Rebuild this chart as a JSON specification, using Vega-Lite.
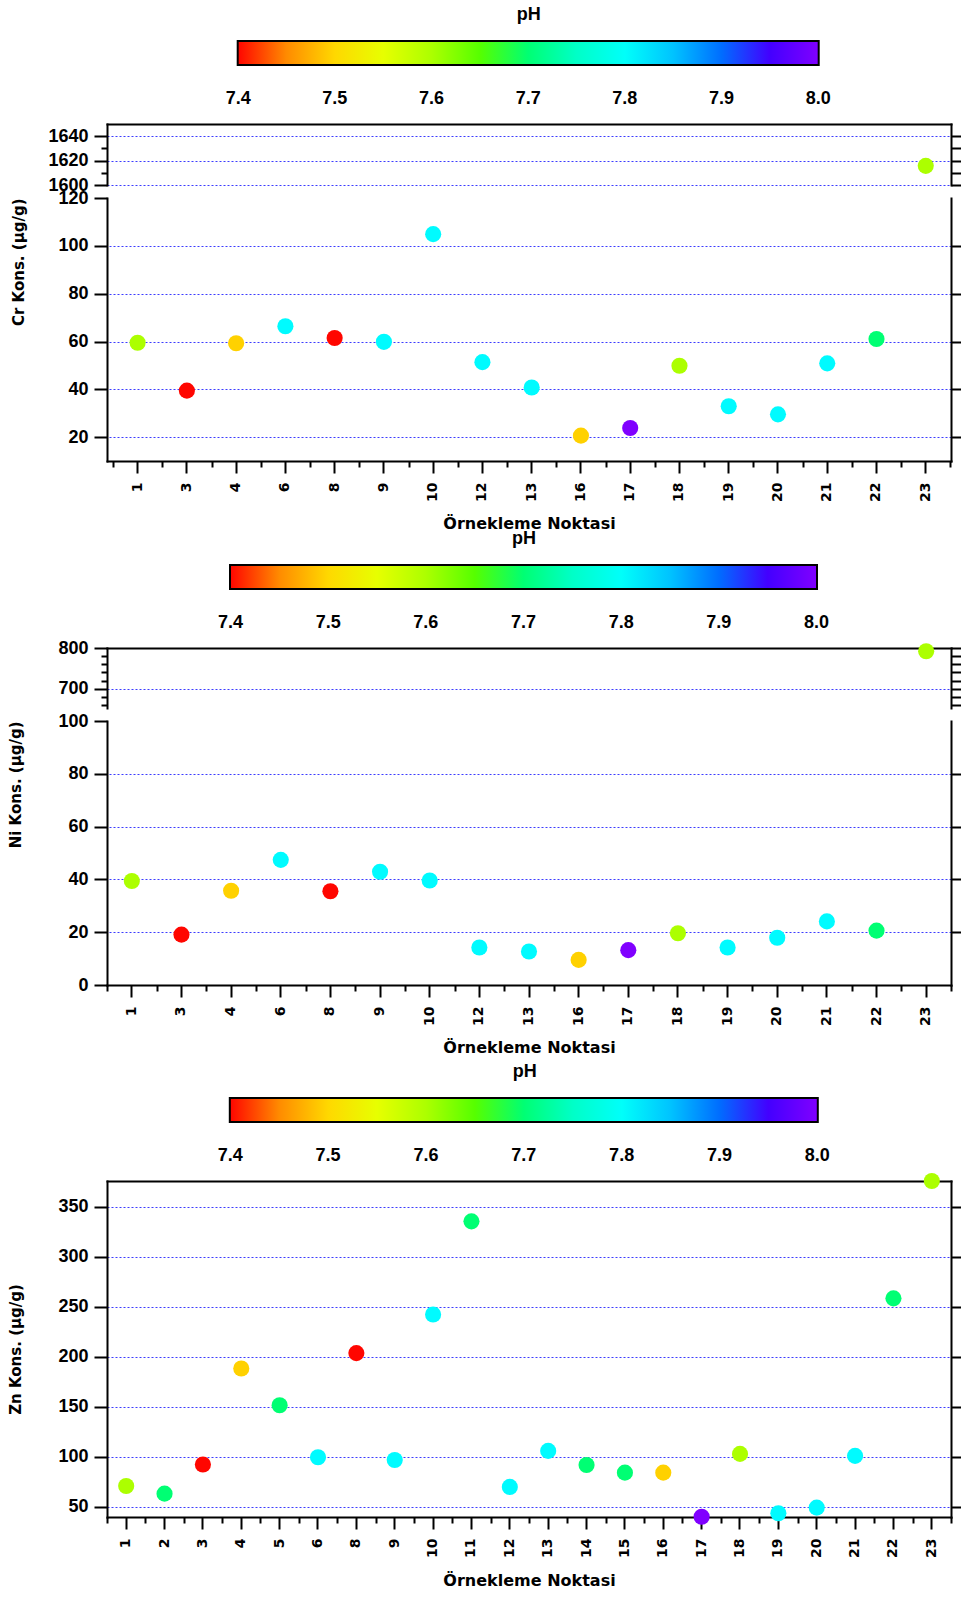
{
  "$schema": "https://vega.github.io/schema/vega-lite/v6.json",
  "background": "white",
  "padding": {"left": 8, "top": 6, "right": 0, "bottom": 0},
  "datasets": {
    "cr": [
      {"Nokta": 1, "Cr": 59.5, "pH": 7.6},
      {"Nokta": 3, "Cr": 39.5, "pH": 7.4},
      {"Nokta": 4, "Cr": 59.3, "pH": 7.495},
      {"Nokta": 6, "Cr": 66.4, "pH": 7.81},
      {"Nokta": 8, "Cr": 61.5, "pH": 7.4},
      {"Nokta": 9, "Cr": 59.9, "pH": 7.81},
      {"Nokta": 10, "Cr": 104.9, "pH": 7.81},
      {"Nokta": 12, "Cr": 51.4, "pH": 7.81},
      {"Nokta": 13, "Cr": 40.8, "pH": 7.81},
      {"Nokta": 16, "Cr": 20.7, "pH": 7.495},
      {"Nokta": 17, "Cr": 23.9, "pH": 8.0},
      {"Nokta": 18, "Cr": 49.9, "pH": 7.6},
      {"Nokta": 19, "Cr": 33.0, "pH": 7.81},
      {"Nokta": 20, "Cr": 29.6, "pH": 7.81},
      {"Nokta": 21, "Cr": 50.9, "pH": 7.81},
      {"Nokta": 22, "Cr": 61.1, "pH": 7.7},
      {"Nokta": 23, "Cr": 1615.7, "pH": 7.6}
    ],
    "ni": [
      {"Nokta": 1, "Ni": 39.4, "pH": 7.6},
      {"Nokta": 3, "Ni": 19.1, "pH": 7.4},
      {"Nokta": 4, "Ni": 35.7, "pH": 7.495},
      {"Nokta": 6, "Ni": 47.4, "pH": 7.81},
      {"Nokta": 8, "Ni": 35.5, "pH": 7.4},
      {"Nokta": 9, "Ni": 42.9, "pH": 7.81},
      {"Nokta": 10, "Ni": 39.6, "pH": 7.81},
      {"Nokta": 12, "Ni": 14.2, "pH": 7.81},
      {"Nokta": 13, "Ni": 12.7, "pH": 7.81},
      {"Nokta": 16, "Ni": 9.5, "pH": 7.495},
      {"Nokta": 17, "Ni": 13.2, "pH": 8.0},
      {"Nokta": 18, "Ni": 19.6, "pH": 7.6},
      {"Nokta": 19, "Ni": 14.2, "pH": 7.81},
      {"Nokta": 20, "Ni": 17.9, "pH": 7.81},
      {"Nokta": 21, "Ni": 24.1, "pH": 7.81},
      {"Nokta": 22, "Ni": 20.6, "pH": 7.7},
      {"Nokta": 23, "Ni": 792, "pH": 7.6}
    ],
    "zn": [
      {"Nokta": 1, "Zn": 70.7, "pH": 7.6},
      {"Nokta": 2, "Zn": 63.0, "pH": 7.7},
      {"Nokta": 3, "Zn": 92.1, "pH": 7.4},
      {"Nokta": 4, "Zn": 188.3, "pH": 7.495},
      {"Nokta": 5, "Zn": 151.5, "pH": 7.7},
      {"Nokta": 6, "Zn": 99.4, "pH": 7.81},
      {"Nokta": 8, "Zn": 203.7, "pH": 7.4},
      {"Nokta": 9, "Zn": 96.7, "pH": 7.81},
      {"Nokta": 10, "Zn": 242.4, "pH": 7.81},
      {"Nokta": 11, "Zn": 335.6, "pH": 7.7},
      {"Nokta": 12, "Zn": 69.7, "pH": 7.81},
      {"Nokta": 13, "Zn": 105.8, "pH": 7.81},
      {"Nokta": 14, "Zn": 91.7, "pH": 7.7},
      {"Nokta": 15, "Zn": 84.0, "pH": 7.7},
      {"Nokta": 16, "Zn": 84.0, "pH": 7.495},
      {"Nokta": 17, "Zn": 39.9, "pH": 8.0},
      {"Nokta": 18, "Zn": 102.8, "pH": 7.6},
      {"Nokta": 19, "Zn": 43.3, "pH": 7.81},
      {"Nokta": 20, "Zn": 49.0, "pH": 7.81},
      {"Nokta": 21, "Zn": 100.8, "pH": 7.81},
      {"Nokta": 22, "Zn": 258.5, "pH": 7.7},
      {"Nokta": 23, "Zn": 376.0, "pH": 7.6}
    ]
  },
  "config": {
    "view": {"stroke": null},
    "axis": {
      "domainColor": "black", "domainWidth": 2, "domainCap": "square",
      "tickColor": "black", "tickWidth": 2, "tickSize": 13,
      "labelColor": "black", "labelFont": "Liberation Sans", "labelFontWeight": "bold", "labelFontSize": 18, "labelPadding": 6,
      "titleColor": "black", "titleFont": "DejaVu Sans", "titleFontWeight": "bold", "titleFontSize": 15,
      "gridColor": "#3c3cff", "gridDash": [2, 2], "gridWidth": 1, "gridOpacity": 1
    },
    "axisX": {"labelFont": "DejaVu Sans", "labelFontWeight": "bold", "labelFontSize": 14, "labelAngle": 270, "labelPadding": 9, "tickSize": 12, "titleFontSize": 16, "grid": false},
    "legend": {
      "orient": "none", "direction": "horizontal", "padding": 0,
      "gradientThickness": 24, "gradientStrokeColor": "black", "gradientStrokeWidth": 2,
      "titleFont": "Liberation Sans", "titleFontSize": 18, "titleFontWeight": "bold", "titleColor": "black", "titleAnchor": "middle", "titlePadding": 17,
      "labelFont": "Liberation Sans", "labelFontSize": 18, "labelFontWeight": "bold", "labelColor": "black"
    }
  },
  "concat": [
    {
      "concat": [
        {
          "concat": [
            {
              "width": 844, "height": 61,
              "data": {"name": "cr"},
              "transform": [{"filter": "datum.Cr > 1000"}],
              "layer": [
                {
                  "mark": {"type": "circle", "size": 260, "opacity": 1},
                  "encoding": {
                    "x": {"field": "Nokta", "type": "ordinal", "scale": {"type": "band", "domain": [1,3,4,6,8,9,10,12,13,16,17,18,19,20,21,22,23], "paddingInner": 0, "paddingOuter": 0.067, "align": 0.907}, "axis": null},
                    "y": {"field": "Cr", "type": "quantitative", "scale": {"domain": [1600, 1650], "nice": false, "zero": false}, "axis": {"values": [1600, 1620, 1640], "format": "d", "grid": true, "title": null}},
                    "color": {"field": "pH", "type": "quantitative", "scale": {"domain": [7.3995, 7.527, 7.667, 7.807, 7.93, 8.0005], "range": ["#ff0000", "#ffff00", "#00ff00", "#00ffff", "#0000ff", "#8000ff"]}, "legend": {"title": "pH", "values": [7.4, 7.5, 7.6, 7.7, 7.8, 7.9, 8.0], "format": ".1f", "legendX": 130.7, "legendY": -118, "gradientLength": 581, "labelOffset": 25}}
                  }
                },
                {
                  "mark": {"type": "circle", "opacity": 0},
                  "encoding": {
                    "x": {"field": "Nokta", "type": "ordinal", "scale": {"type": "band", "domain": [1,3,4,6,8,9,10,12,13,16,17,18,19,20,21,22,23], "paddingInner": 0, "paddingOuter": 0.067, "align": 0.907}, "axis": {"orient": "top", "labels": false, "ticks": false, "title": null}},
                    "y": {"field": "Cr", "type": "quantitative", "scale": {"domain": [1600, 1650], "nice": false, "zero": false}, "axis": {"orient": "right", "values": [1600, 1610, 1620, 1630, 1640], "labels": false, "grid": false, "title": null, "tickSize": 10}}
                  }
                },
                {
                  "mark": {"type": "circle", "opacity": 0},
                  "encoding": {
                    "x": {"field": "Nokta", "type": "ordinal", "scale": {"type": "band", "domain": [1,3,4,6,8,9,10,12,13,16,17,18,19,20,21,22,23], "paddingInner": 0, "paddingOuter": 0.067, "align": 0.907}, "axis": null},
                    "y": {"field": "Cr", "type": "quantitative", "scale": {"domain": [1600, 1650], "nice": false, "zero": false}, "axis": {"orient": "left", "values": [1610, 1630], "labels": false, "domain": false, "grid": false, "title": null, "tickSize": 6}}
                  }
                }
              ],
              "resolve": {"axis": {"x": "independent", "y": "independent"}}
            },
            {
              "width": 844, "height": 263,
              "data": {"name": "cr"},
              "transform": [{"filter": "datum.Cr < 1000"}],
              "layer": [
                {
                  "mark": {"type": "circle", "size": 260, "opacity": 1},
                  "encoding": {
                    "x": {"field": "Nokta", "type": "ordinal", "scale": {"type": "band", "domain": [1,3,4,6,8,9,10,12,13,16,17,18,19,20,21,22,23], "paddingInner": 0, "paddingOuter": 0.067, "align": 0.907}, "axis": {"title": "Örnekleme Noktasi", "titlePadding": 14}},
                    "y": {"field": "Cr", "type": "quantitative", "scale": {"domain": [10.1, 120], "nice": false, "zero": false}, "axis": {"values": [20, 40, 60, 80, 100, 120], "grid": false, "title": "Cr Kons. (µg/g)", "titleAnchor": "end", "titlePadding": 31}},
                    "color": {"field": "pH", "type": "quantitative", "scale": {"domain": [7.3995, 7.527, 7.667, 7.807, 7.93, 8.0005], "range": ["#ff0000", "#ffff00", "#00ff00", "#00ffff", "#0000ff", "#8000ff"]}, "legend": {"title": "pH", "values": [7.4, 7.5, 7.6, 7.7, 7.8, 7.9, 8.0], "format": ".1f", "legendX": 130.7, "legendY": -118, "gradientLength": 581, "labelOffset": 25}}
                  }
                },
                {
                  "mark": {"type": "circle", "opacity": 0},
                  "encoding": {
                    "x": {"field": "Nokta", "type": "ordinal", "scale": {"type": "band", "domain": [1,3,4,6,8,9,10,12,13,16,17,18,19,20,21,22,23], "paddingInner": 0, "paddingOuter": 0.067, "align": 0.907}, "axis": {"orient": "bottom", "tickBand": "extent", "labels": false, "domain": false, "title": null, "tickSize": 6}},
                    "y": {"field": "Cr", "type": "quantitative", "scale": {"domain": [10.1, 120], "nice": false, "zero": false}, "axis": {"orient": "right", "values": [20, 40, 60, 80, 100], "labels": false, "grid": true, "title": null, "tickSize": 10}}
                  }
                }
              ],
              "resolve": {"axis": {"x": "independent", "y": "independent"}}
            }
          ],
          "columns": 1, "spacing": 13, "bounds": "flush", "align": {"row": "none", "column": "each"}
        },
        {
          "concat": [
            {
              "width": 844, "height": 60,
              "data": {"name": "ni"},
              "transform": [{"filter": "datum.Ni > 500"}],
              "layer": [
                {
                  "mark": {"type": "circle", "size": 260, "opacity": 1},
                  "encoding": {
                    "x": {"field": "Nokta", "type": "ordinal", "scale": {"type": "band", "domain": [1,3,4,6,8,9,10,12,13,16,17,18,19,20,21,22,23], "paddingInner": 0, "paddingOuter": 0}, "axis": null},
                    "y": {"field": "Ni", "type": "quantitative", "scale": {"domain": [653, 800], "nice": false, "zero": false}, "axis": {"values": [700, 800], "grid": true, "title": null}},
                    "color": {"field": "pH", "type": "quantitative", "scale": {"domain": [7.3995, 7.527, 7.667, 7.807, 7.93, 8.0005], "range": ["#ff0000", "#ffff00", "#00ff00", "#00ffff", "#0000ff", "#8000ff"]}, "legend": {"title": "pH", "values": [7.4, 7.5, 7.6, 7.7, 7.8, 7.9, 8.0], "format": ".1f", "legendX": 123, "legendY": -118, "gradientLength": 587, "labelOffset": 25}}
                  }
                },
                {
                  "mark": {"type": "circle", "opacity": 0},
                  "encoding": {
                    "x": {"field": "Nokta", "type": "ordinal", "scale": {"type": "band", "domain": [1,3,4,6,8,9,10,12,13,16,17,18,19,20,21,22,23], "paddingInner": 0, "paddingOuter": 0}, "axis": {"orient": "top", "labels": false, "ticks": false, "title": null}},
                    "y": {"field": "Ni", "type": "quantitative", "scale": {"domain": [653, 800], "nice": false, "zero": false}, "axis": {"orient": "right", "values": [660, 680, 700, 720, 740, 760, 780, 800], "labels": false, "grid": false, "title": null, "tickSize": 10}}
                  }
                },
                {
                  "mark": {"type": "circle", "opacity": 0},
                  "encoding": {
                    "x": {"field": "Nokta", "type": "ordinal", "scale": {"type": "band", "domain": [1,3,4,6,8,9,10,12,13,16,17,18,19,20,21,22,23], "paddingInner": 0, "paddingOuter": 0}, "axis": null},
                    "y": {"field": "Ni", "type": "quantitative", "scale": {"domain": [653, 800], "nice": false, "zero": false}, "axis": {"orient": "left", "values": [660, 680, 720, 740, 760, 780], "labels": false, "domain": false, "grid": false, "title": null, "tickSize": 6}}
                  }
                }
              ],
              "resolve": {"axis": {"x": "independent", "y": "independent"}}
            },
            {
              "width": 844, "height": 264,
              "data": {"name": "ni"},
              "transform": [{"filter": "datum.Ni < 500"}],
              "layer": [
                {
                  "mark": {"type": "circle", "size": 260, "opacity": 1},
                  "encoding": {
                    "x": {"field": "Nokta", "type": "ordinal", "scale": {"type": "band", "domain": [1,3,4,6,8,9,10,12,13,16,17,18,19,20,21,22,23], "paddingInner": 0, "paddingOuter": 0}, "axis": {"title": "Örnekleme Noktasi", "titlePadding": 14}},
                    "y": {"field": "Ni", "type": "quantitative", "scale": {"domain": [0, 100], "nice": false}, "axis": {"values": [0, 20, 40, 60, 80, 100], "grid": false, "title": "Ni Kons. (µg/g)", "titleAnchor": "end", "titlePadding": 34}},
                    "color": {"field": "pH", "type": "quantitative", "scale": {"domain": [7.3995, 7.527, 7.667, 7.807, 7.93, 8.0005], "range": ["#ff0000", "#ffff00", "#00ff00", "#00ffff", "#0000ff", "#8000ff"]}, "legend": {"title": "pH", "values": [7.4, 7.5, 7.6, 7.7, 7.8, 7.9, 8.0], "format": ".1f", "legendX": 123, "legendY": -118, "gradientLength": 587, "labelOffset": 25}}
                  }
                },
                {
                  "mark": {"type": "circle", "opacity": 0},
                  "encoding": {
                    "x": {"field": "Nokta", "type": "ordinal", "scale": {"type": "band", "domain": [1,3,4,6,8,9,10,12,13,16,17,18,19,20,21,22,23], "paddingInner": 0, "paddingOuter": 0}, "axis": {"orient": "bottom", "tickBand": "extent", "labels": false, "domain": false, "title": null, "tickSize": 6}},
                    "y": {"field": "Ni", "type": "quantitative", "scale": {"domain": [0, 100], "nice": false}, "axis": {"orient": "right", "values": [20, 40, 60, 80], "labels": false, "grid": true, "title": null, "tickSize": 10}}
                  }
                }
              ],
              "resolve": {"axis": {"x": "independent", "y": "independent"}}
            }
          ],
          "columns": 1, "spacing": 13, "bounds": "flush", "align": {"row": "none", "column": "each"}
        }
      ],
      "columns": 1, "spacing": -2, "align": "none",
      "resolve": {"scale": {"color": "independent"}}
    },
    {
      "width": 844, "height": 336,
      "data": {"name": "zn"},
      "layer": [
        {
          "mark": {"type": "circle", "size": 260, "opacity": 1, "clip": false},
          "encoding": {
            "x": {"field": "Nokta", "type": "ordinal", "scale": {"type": "band", "paddingInner": 0, "paddingOuter": 0}, "axis": {"title": "Örnekleme Noktasi", "titlePadding": 15}},
            "y": {"field": "Zn", "type": "quantitative", "scale": {"domain": [39.6, 376], "nice": false, "zero": false}, "axis": {"values": [50, 100, 150, 200, 250, 300, 350], "grid": true, "title": "Zn Kons. (µg/g)", "titlePadding": 34}},
            "color": {"field": "pH", "type": "quantitative", "scale": {"domain": [7.3995, 7.527, 7.667, 7.807, 7.93, 8.0005], "range": ["#ff0000", "#ffff00", "#00ff00", "#00ffff", "#0000ff", "#8000ff"]}, "legend": {"title": "pH", "values": [7.4, 7.5, 7.6, 7.7, 7.8, 7.9, 8.0], "format": ".1f", "legendX": 122.8, "legendY": -118, "gradientLength": 588, "labelOffset": 25}}
          }
        },
        {
          "mark": {"type": "circle", "opacity": 0},
          "encoding": {
            "x": {"field": "Nokta", "type": "ordinal", "scale": {"type": "band", "paddingInner": 0, "paddingOuter": 0}, "axis": {"orient": "top", "labels": false, "ticks": false, "title": null}},
            "y": {"field": "Zn", "type": "quantitative", "scale": {"domain": [39.6, 376], "nice": false, "zero": false}, "axis": {"orient": "right", "values": [50, 100, 150, 200, 250, 300, 350], "labels": false, "grid": false, "title": null, "tickSize": 10}}
          }
        },
        {
          "mark": {"type": "circle", "opacity": 0},
          "encoding": {
            "x": {"field": "Nokta", "type": "ordinal", "scale": {"type": "band", "paddingInner": 0, "paddingOuter": 0}, "axis": {"orient": "bottom", "tickBand": "extent", "labels": false, "domain": false, "title": null, "tickSize": 6}},
            "y": {"field": "Zn", "type": "quantitative", "scale": {"domain": [39.6, 376], "nice": false, "zero": false}, "axis": null}
          }
        }
      ],
      "resolve": {"axis": {"x": "independent", "y": "independent"}}
    }
  ],
  "columns": 1, "spacing": 7, "align": "none",
  "resolve": {"scale": {"color": "independent"}}
}
